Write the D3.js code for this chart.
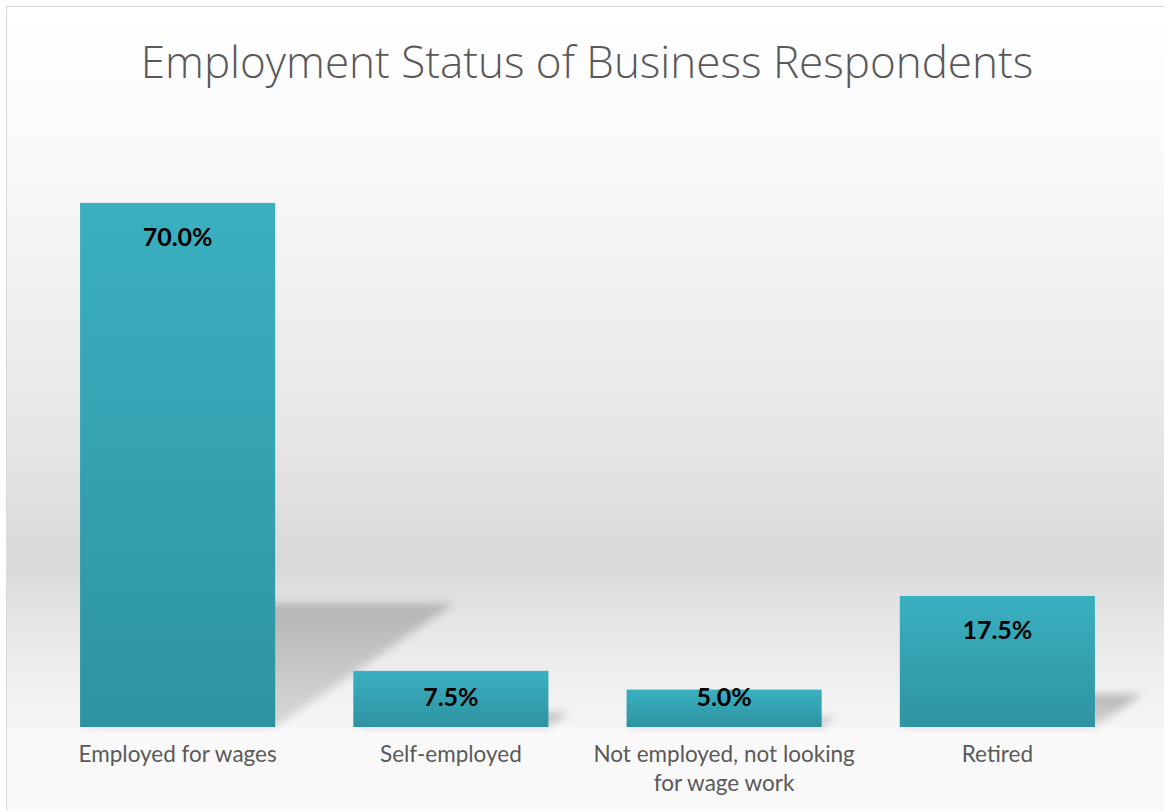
<!DOCTYPE html>
<html>
<head>
<meta charset="utf-8">
<script src="https://cdn.jsdelivr.net/npm/d3@7"></script>
<style>
  body { margin: 0; background: #fff; }
  svg { display: block; }
</style>
</head>
<body>
<svg id="chart"></svg>
<script>
const categories = ["Employed for wages", "Self-employed", "Not employed, not looking for wage work", "Retired"];
const categoryLines = [["Employed for wages"], ["Self-employed"], ["Not employed, not looking", "for wage work"], ["Retired"]];
const values = [70.0, 7.5, 5.0, 17.5];
const yMax = 80;

const width = 1164,
    height = 811;

const svg = d3.select('#chart')
    .attr('width', width)
    .attr('height', height);

const defs = svg.append('defs');

// chart background: white at top, grey band near the floor
const bg = defs.append('linearGradient')
    .attr('id', 'bg')
    .attr('x1', 0).attr('y1', 0).attr('x2', 0).attr('y2', 1);
[[0, '#ffffff'], [0.15, '#fbfbfb'], [0.36, '#f0f0f0'], [0.55, '#e5e5e5'],
 [0.685, '#d9d9d9'], [0.76, '#e6e6e6'], [0.86, '#f3f3f3'], [1, '#fdfdfd']]
    .forEach(s => bg.append('stop').attr('offset', s[0]).attr('stop-color', s[1]));

const barGrad = defs.append('linearGradient')
    .attr('id', 'bar')
    .attr('x1', 0).attr('y1', 0).attr('x2', 0).attr('y2', 1);
barGrad.append('stop').attr('offset', 0).attr('stop-color', '#3ab0c1');
barGrad.append('stop').attr('offset', 1).attr('stop-color', '#2e93a0');

const shadowGrad = defs.append('linearGradient')
    .attr('id', 'shadow')
    .attr('x1', 0).attr('y1', 0).attr('x2', 0).attr('y2', 1);
shadowGrad.append('stop').attr('offset', 0).attr('stop-color', '#b5b5b5');
shadowGrad.append('stop').attr('offset', 1).attr('stop-color', '#d8d8d8');

defs.append('filter')
    .attr('id', 'blur')
    .attr('x', '-20%').attr('y', '-20%').attr('width', '140%').attr('height', '140%')
    .append('feGaussianBlur')
    .attr('stdDeviation', 4);

svg.append('rect')
    .attr('x', 6.5).attr('y', 6.5)
    .attr('width', width).attr('height', height)
    .attr('fill', 'url(#bg)')
    .attr('stroke', '#d9d9d9')
    .attr('stroke-width', 1);

// floor under the bars
svg.append('rect')
    .attr('x', 7).attr('y', 727)
    .attr('width', width).attr('height', height - 727)
    .attr('fill', '#f9f9f9');

svg.append('text')
    .attr('x', 587)
    .attr('y', 78)
    .attr('text-anchor', 'middle')
    .attr('font-family', 'Open Sans, sans-serif')
    .attr('font-weight', 300)
    .attr('font-size', 44)
    .attr('fill', '#595959')
    .text('Employment Status of Business Respondents');

const x = d3.scaleBand()
    .domain(categories)
    .range([41, 1134])
    .paddingInner(0.286)
    .paddingOuter(0.143);

const y = d3.scaleLinear()
    .domain([0, yMax])
    .range([727, 128]);

const data = categories.map((c, i) => ({ cat: c, lines: categoryLines[i], value: values[i] }));

//shadows cast behind the bars
svg.append('g')
    .attr('filter', 'url(#blur)')
    .selectAll('path')
    .data(data)
    .join('path')
    .attr('d', d => {
        const x0 = x(d.cat), x1 = x0 + x.bandwidth();
        const h = y(0) - y(d.value);
        const sy = Math.min(h * 0.25, 124);
        const sx = sy * 1.45;
        return `M${x0},${y(0)} L${x1},${y(0)} L${x1 + sx},${y(0) - sy} L${x0 + sx},${y(0) - sy} Z`;
    })
    .attr('fill', 'url(#shadow)');

svg.append('g')
    .selectAll('rect')
    .data(data)
    .join('rect')
    .attr('x', d => x(d.cat))
    .attr('y', d => y(d.value))
    .attr('width', x.bandwidth())
    .attr('height', d => y(0) - y(d.value))
    .attr('fill', 'url(#bar)');

// value labels, inside end
svg.append('g')
    .attr('font-family', 'Lato, sans-serif')
    .attr('font-weight', 'bold')
    .attr('font-size', 25)
    .attr('fill', '#000')
    .attr('text-anchor', 'middle')
    .selectAll('text')
    .data(data)
    .join('text')
    .attr('x', d => x(d.cat) + x.bandwidth() / 2)
    .attr('y', d => {
        const h = y(0) - y(d.value);
        return y(d.value) + Math.min(34, h - 30);
    })
    .attr('dy', '0.35em')
    .text(d => d3.format('.1f')(d.value) + '%');

// category labels
const labels = svg.append('g')
    .attr('font-family', 'Lato, sans-serif')
    .attr('font-size', 22.5)
    .attr('fill', '#595959')
    .attr('text-anchor', 'middle')
    .selectAll('text')
    .data(data)
    .join('text')
    .attr('x', d => x(d.cat) + x.bandwidth() / 2)
    .attr('y', 762);

labels.selectAll('tspan')
    .data(d => d.lines.map(l => ({ l: l, cx: x(d.cat) + x.bandwidth() / 2 })))
    .join('tspan')
    .attr('x', t => t.cx)
    .attr('dy', (t, i) => i === 0 ? 0 : 29)
    .text(t => t.l);
</script>
</body>
</html>
